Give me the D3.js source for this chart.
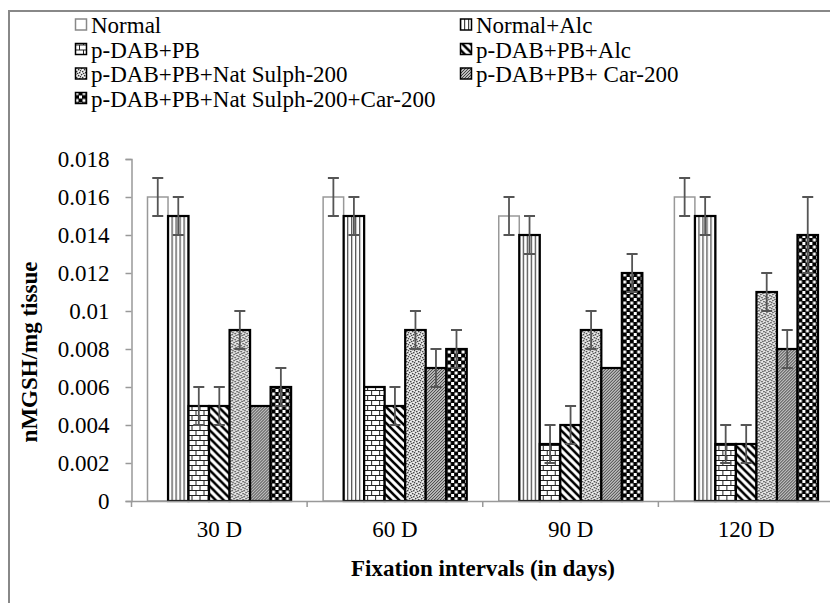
<!DOCTYPE html>
<html>
<head>
<meta charset="utf-8">
<script src="https://cdn.jsdelivr.net/npm/d3@7"></script>
<style>
  body { margin: 0; background: #fff; }
  text { font-family: "Liberation Serif", "Times New Roman", serif; fill: #000; }
</style>
</head>
<body>
<div id="chart"></div>
<script>
// groups on the x axis
const categories = ["30 D", "60 D", "90 D", "120 D"];

const seriesNames = [
  "Normal",
  "Normal+Alc",
  "p-DAB+PB",
  "p-DAB+PB+Alc",
  "p-DAB+PB+Nat Sulph-200",
  "p-DAB+PB+ Car-200",
  "p-DAB+PB+Nat Sulph-200+Car-200"
];

// mean values, one per interval
const normal      = [0.016, 0.016, 0.015, 0.016];
const normalAlc   = [0.015, 0.015, 0.014, 0.015];
const pdabPb      = [0.005, 0.006, 0.003, 0.003];
const pdabPbAlc   = [0.005, 0.005, 0.004, 0.003];
const natSulph    = [0.009, 0.009, 0.009, 0.011];
const car         = [0.005, 0.007, 0.007, 0.008];
const natSulphCar = [0.006, 0.008, 0.012, 0.014];

// standard errors
const normalErr      = [0.001, 0.001, 0.001, 0.001];
const normalAlcErr   = [0.001, 0.001, 0.001, 0.001];
const pdabPbErr      = [0.001, 0, 0.001, 0.001];
const pdabPbAlcErr   = [0.001, 0.001, 0.001, 0.001];
const natSulphErr    = [0.001, 0.001, 0.001, 0.001];
const carErr         = [0, 0.001, 0, 0.001];
const natSulphCarErr = [0.001, 0.001, 0.001, 0.002];

const yTicks = [0, 0.002, 0.004, 0.006, 0.008, 0.01, 0.012, 0.014, 0.016, 0.018];
const yTickLabels = ["0", "0.002", "0.004", "0.006", "0.008", "0.01", "0.012", "0.014", "0.016", "0.018"];

const values = [normal, normalAlc, pdabPb, pdabPbAlc, natSulph, car, natSulphCar];
const errors = [normalErr, normalAlcErr, pdabPbErr, pdabPbAlcErr, natSulphErr, carErr, natSulphCarErr];

const width = 830;
const height = 603;

const svg = d3.select("#chart")
  .append("svg")
  .attr("width", width)
  .attr("height", height);

// fill patterns, one per series
const defs = svg.append("defs");

function pattern(id, w, h) {
  return defs.append("pattern")
    .attr("id", id)
    .attr("patternUnits", "userSpaceOnUse")
    .attr("width", w)
    .attr("height", h);
}

// vertical lines
let p = pattern("pat1", 4, 4);
p.append("rect").attr("width", 4).attr("height", 4).attr("fill", "#fff");
p.append("rect").attr("x", 0).attr("width", 1.2).attr("height", 4).attr("fill", "#444");

// bricks
p = pattern("pat2", 8, 10);
p.append("rect").attr("width", 8).attr("height", 10).attr("fill", "#fff");
p.append("path")
  .attr("d", "M0,0.5H8M0,5.5H8M0.5,0V5M4.5,5V10")
  .attr("stroke", "#222").attr("stroke-width", 1).attr("fill", "none");

// wide downward diagonal
p = pattern("pat3", 8, 8);
p.append("rect").attr("width", 8).attr("height", 8).attr("fill", "#fff");
p.append("path")
  .attr("d", "M-2,-2L10,10M-2,6L2,10M6,-2L10,2")
  .attr("stroke", "#000").attr("stroke-width", 2.6).attr("fill", "none");

// stipple
p = pattern("pat4", 6, 6);
p.append("rect").attr("width", 6).attr("height", 6).attr("fill", "#ddd");
[[0, 0], [3, 1], [1, 3], [4, 4], [2, 5], [5, 2]].forEach(d => {
  p.append("rect").attr("x", d[0]).attr("y", d[1]).attr("width", 1.3).attr("height", 1.3).attr("fill", "#333");
});
[[1, 1], [4, 0], [0, 4], [3, 3]].forEach(d => {
  p.append("rect").attr("x", d[0]).attr("y", d[1]).attr("width", 1).attr("height", 1).attr("fill", "#fff");
});

// dense upward diagonal
p = pattern("pat5", 3, 3);
p.append("rect").attr("width", 3).attr("height", 3).attr("fill", "#bbb");
p.append("path")
  .attr("d", "M-1,4L4,-1M-1,1L1,-1M2,4L4,2")
  .attr("stroke", "#333").attr("stroke-width", 0.9).attr("fill", "none");

// checker
p = pattern("pat6", 7, 7);
p.append("rect").attr("width", 7).attr("height", 7).attr("fill", "#000");
p.append("rect").attr("x", 0.5).attr("y", 0.5).attr("width", 3).attr("height", 3).attr("fill", "#fff");
p.append("rect").attr("x", 4).attr("y", 4).attr("width", 3).attr("height", 3).attr("fill", "#fff");

const fills = ["#fff", "url(#pat1)", "url(#pat2)", "url(#pat3)", "url(#pat4)", "url(#pat5)", "url(#pat6)"];
const strokes = ["#999", "#000", "#000", "#000", "#000", "#000", "#000"];

// outer frame
svg.append("path")
  .attr("d", "M9,603V11H830")
  .attr("stroke", "#888").attr("stroke-width", 2).attr("fill", "none");

const x0 = d3.scaleBand()
  .domain(categories)
  .range([131.5, 834]);

const gap = 16;
const x1 = d3.scaleBand()
  .domain(d3.range(seriesNames.length))
  .range([gap, x0.bandwidth() - gap]);

const y = d3.scaleLinear()
  .domain([0, 0.018])
  .range([501, 159]);

// y axis
const yAxis = svg.append("g")
  .attr("transform", "translate(131.5,0)")
  .call(d3.axisLeft(y).tickValues(yTicks).tickSize(6).tickPadding(16)
    .tickFormat((d, i) => yTickLabels[i]));
yAxis.select(".domain").attr("stroke", "#999").attr("stroke-width", 1.5);
yAxis.selectAll(".tick line").attr("stroke", "#999").attr("stroke-width", 1.5);
yAxis.selectAll(".tick text")
  .style("font-family", "Liberation Serif")
  .style("font-size", "23px")
  .attr("fill", "#000");

// bars
const groups = svg.selectAll(".grp")
  .data(categories)
  .enter().append("g")
  .attr("class", "grp")
  .attr("transform", d => `translate(${x0(d)},0)`);

groups.selectAll("rect")
  .data((c, ci) => values.map((v, si) => ({ s: si, v: v[ci], e: errors[si][ci] })))
  .enter().append("rect")
  .attr("x", d => x1(d.s))
  .attr("y", d => y(d.v))
  .attr("width", x1.bandwidth())
  .attr("height", d => y(0) - y(d.v))
  .attr("fill", d => fills[d.s])
  .attr("stroke", d => strokes[d.s])
  .attr("stroke-width", d => d.s === 0 ? 1.5 : 2.2);

// error bars
const cap = 5.5;
groups.selectAll(".err")
  .data((c, ci) => values.map((v, si) => ({ s: si, v: v[ci], e: errors[si][ci] })).filter(d => d.e > 0))
  .enter().append("path")
  .attr("class", "err")
  .attr("d", d => {
    const cx = x1(d.s) + x1.bandwidth() / 2;
    const t = y(d.v + d.e), b = y(d.v - d.e);
    return `M${cx},${t}V${b}M${cx - cap},${t}H${cx + cap}M${cx - cap},${b}H${cx + cap}`;
  })
  .attr("stroke", "#555")
  .attr("stroke-width", 1.8)
  .attr("fill", "none");

// x axis
const xAxis = svg.append("g")
  .attr("transform", "translate(0,501)")
  .call(d3.axisBottom(x0).tickSize(0).tickPadding(20));
xAxis.select(".domain").attr("stroke", "#999").attr("stroke-width", 1.5);
xAxis.selectAll(".tick text")
  .style("font-family", "Liberation Serif")
  .style("font-size", "23px")
  .attr("fill", "#000");
xAxis.selectAll(".sep")
  .data(categories)
  .enter().append("line")
  .attr("class", "sep")
  .attr("x1", d => x0(d)).attr("x2", d => x0(d))
  .attr("y1", 0).attr("y2", 6)
  .attr("stroke", "#999").attr("stroke-width", 1.5);

// axis titles
svg.append("text")
  .attr("x", 483)
  .attr("y", 576)
  .attr("text-anchor", "middle")
  .style("font-size", "23px")
  .style("font-weight", "bold")
  .text("Fixation intervals (in days)");

svg.append("text")
  .attr("transform", "translate(37,352) rotate(-90)")
  .attr("text-anchor", "middle")
  .style("font-size", "23px")
  .style("font-weight", "bold")
  .text("nMGSH/mg tissue");

// legend, two columns
const legendCols = [75, 460];
const legendRow0 = 25;
const legendStep = 24.5;

const legend = svg.selectAll(".leg")
  .data(seriesNames)
  .enter().append("g")
  .attr("class", "leg")
  .attr("transform", (d, i) => `translate(${legendCols[i % 2]},${legendRow0 + Math.floor(i / 2) * legendStep})`);

legend.append("rect")
  .attr("x", 0.5).attr("y", -6)
  .attr("width", 11).attr("height", 11)
  .attr("fill", (d, i) => fills[i])
  .attr("stroke", (d, i) => i === 0 ? "#888" : "#000")
  .attr("stroke-width", 1.5);

legend.append("text")
  .attr("x", 16)
  .attr("y", 8)
  .style("font-size", "23px")
  .text(d => d);
</script>
</body>
</html>
